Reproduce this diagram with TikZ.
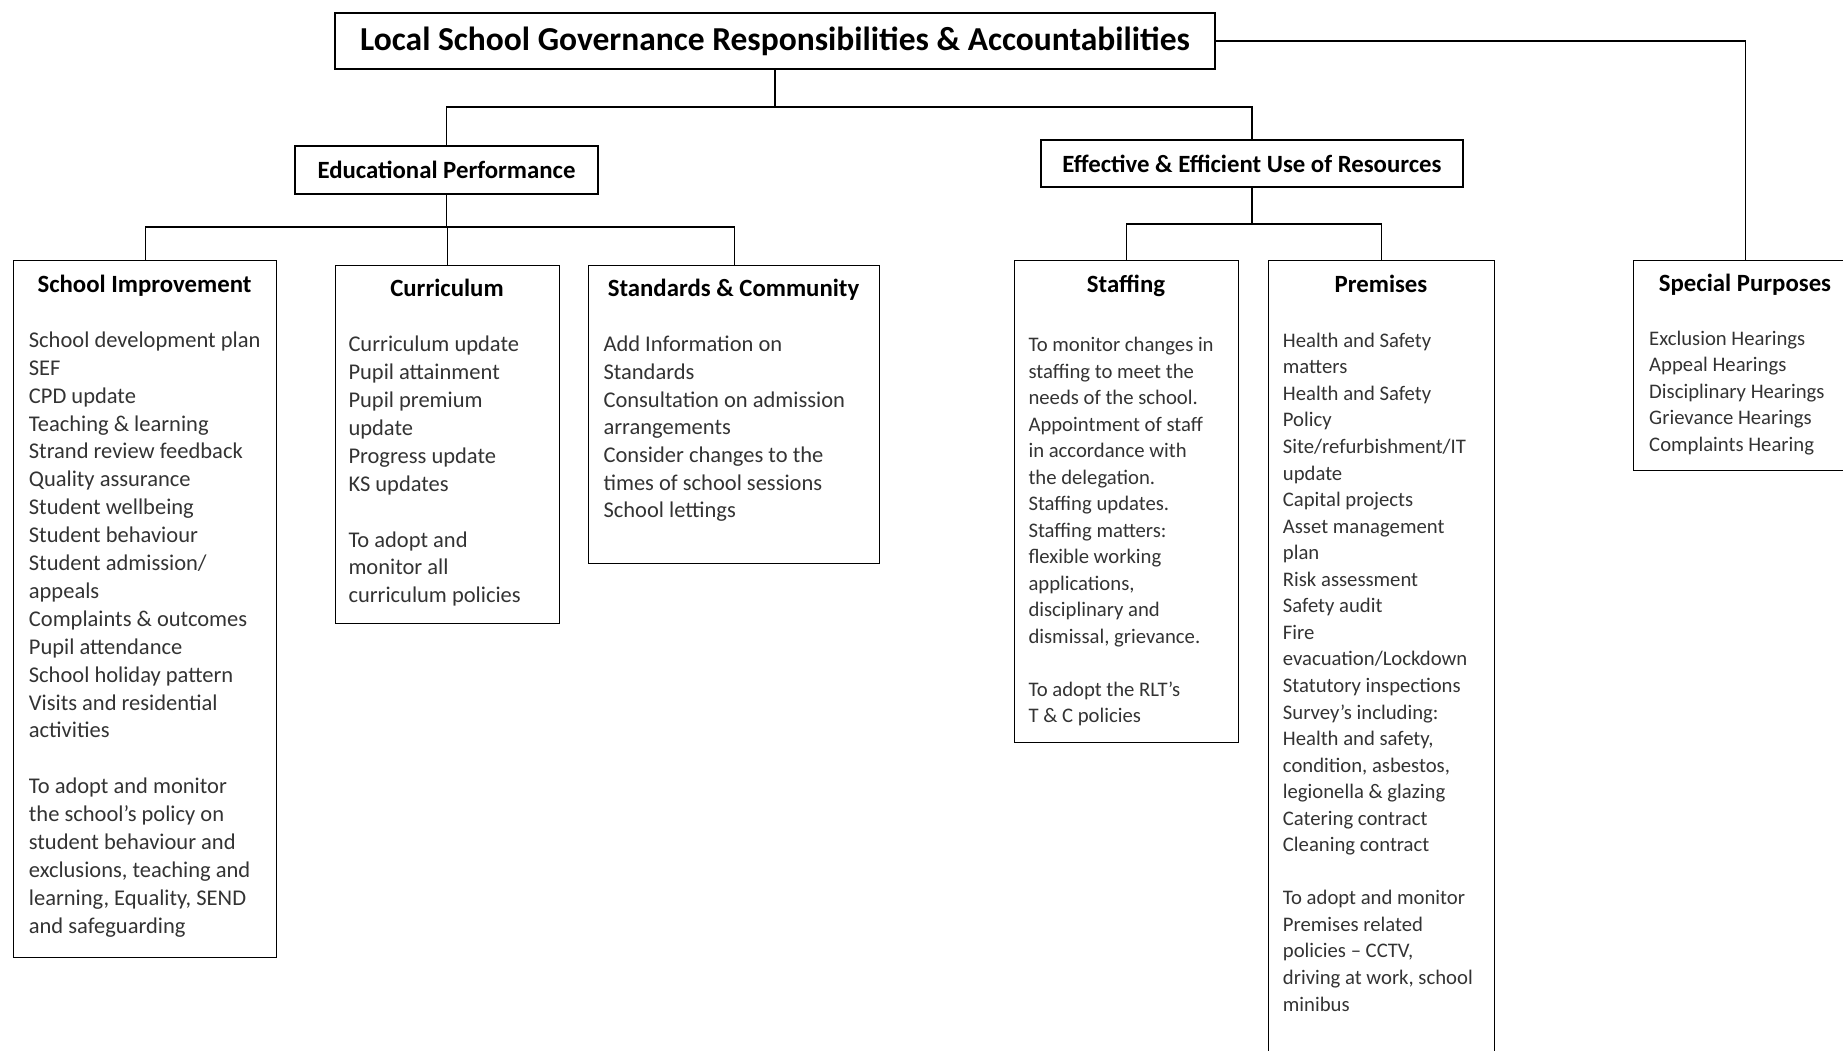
\documentclass[tikz,border=0pt]{standalone}
\usepackage{fontspec}
\setmainfont{Carlito}
\definecolor{bodytext}{gray}{0.2}

\begin{document}
\begin{tikzpicture}[x=1pt,y=-1pt,
  box/.style={draw,line width=1.2pt,inner sep=0pt,anchor=north west},
  topbox/.style={draw,line width=1.2pt,inner sep=0pt,font=\fontsize{24.8}{30}\selectfont\bfseries},
  head/.style={anchor=base,inner sep=0pt,font=\fontsize{24.8}{30}\selectfont\bfseries},
  itemL/.style={anchor=base west,inner sep=0pt,text=bodytext,font=\fontsize{22.5}{27.9}\selectfont},
  itemR/.style={anchor=base west,inner sep=0pt,text=bodytext,font=\fontsize{20.7}{26.5}\selectfont},
  link/.style={line width=1.2pt}]
\useasboundingbox (0,0) rectangle (1843,1050);
\clip (0,0) rectangle (1843,1050);

% top levels
\node[topbox,minimum width=880pt,minimum height=56pt,font=\fontsize{33.5}{40}\selectfont\bfseries] (title) at (775,41) {Local School Governance Responsibilities \& Accountabilities};
\node[topbox,minimum width=303pt,minimum height=48pt] (edu) at (446.5,170) {Educational Performance};
\node[topbox,minimum width=422pt,minimum height=47pt] (eff) at (1252,163.5) {Effective \& Efficient Use of Resources};

% boxes
\node[box,minimum width=263pt,minimum height=697pt] (si) at (13,260) {};
\node[box,minimum width=224pt,minimum height=358pt] (cur) at (335,265) {};
\node[box,minimum width=291pt,minimum height=298pt] (std) at (588,265) {};
\node[box,minimum width=224pt,minimum height=482pt] (staff) at (1014,260) {};
\node[box,minimum width=226pt,minimum height=850pt] (prem) at (1268,260) {};
\node[box,minimum width=224pt,minimum height=210pt] (spec) at (1633,260) {};

\node[head] (si-head) at (144.5,292) {School Improvement};
\node[head] (cur-head) at (447,296) {Curriculum};
\node[head] (std-head) at (733.5,296) {Standards \& Community};
\node[head] (staff-head) at (1126,292) {Staffing};
\node[head] (prem-head) at (1381,292) {Premises};
\node[head] (spec-head) at (1745,291) {Special Purposes};

% connectors
\coordinate (lvl1) at (0,107);
\coordinate (lvl2) at (0,227);
\coordinate (lvl3) at (0,224);
\draw[link] (title.south) -- (title.south |- lvl1);
\draw[link] (edu.north) |- (eff.north |- lvl1) -- (eff.north);
\draw[link] (edu.south) -- (edu.south |- lvl2);
\draw[link] (si.north) |- (std.north |- lvl2) -- (std.north);
\draw[link] (cur.north) -- (cur.north |- lvl2);
\draw[link] (eff.south) -- (eff.south |- lvl3);
\draw[link] (staff.north) |- (prem.north |- lvl3) -- (prem.north);
\draw[link] (title.east) -| (spec.north);

% box texts
\foreach \n/\t in {0/School development plan,1/SEF,2/CPD update,3/Teaching \& learning,
  4/Strand review feedback,5/Quality assurance,6/Student wellbeing,7/Student behaviour,
  8/{Student admission/},9/appeals,10/Complaints \& outcomes,11/Pupil attendance,
  12/School holiday pattern,13/Visits and residential,14/activities,
  16/To adopt and monitor,17/the school’s policy on,18/student behaviour and,
  19/{exclusions, teaching and},20/{learning, Equality, SEND},21/and safeguarding}
{
  \node[itemL] (si-\n) at (28.7,347.3+27.9*\n) {\t};
}

\foreach \n/\t in {0/Curriculum update,1/Pupil attainment,2/Pupil premium,3/update,
  4/Progress update,5/KS updates,7/To adopt and,8/monitor all,9/curriculum policies}
{
  \node[itemL] (cur-\n) at (348.3,351.7+27.9*\n) {\t};
}

\foreach \n/\t in {0/Add Information on,1/Standards,2/Consultation on admission,
  3/arrangements,4/Consider changes to the,5/times of school sessions,6/School lettings}
{
  \node[itemL] (std-\n) at (603.3,351.7+27.7*\n) {\t};
}

\foreach \n/\t in {0/To monitor changes in,1/staffing to meet the,2/needs of the school.,
  3/Appointment of staff,4/in accordance with,5/the delegation.,6/Staffing updates.,
  7/Staffing matters:,8/flexible working,9/{applications,},10/disciplinary and,
  11/{dismissal, grievance.},13/To adopt the RLT’s,14/T \& C policies}
{
  \node[itemR] (staff-\n) at (1028.3,351.7+26.5*\n) {\t};
}

\foreach \n/\t in {0/Health and Safety,1/matters,2/Health and Safety,3/Policy,
  4/{Site/refurbishment/IT},5/update,6/Capital projects,7/Asset management,8/plan,
  9/Risk assessment,10/Safety audit,11/Fire,12/{evacuation/Lockdown},
  13/Statutory inspections,14/Survey’s including:,15/{Health and safety,},
  16/{condition, asbestos,},17/legionella \& glazing,18/Catering contract,
  19/Cleaning contract,21/To adopt and monitor,22/Premises related,
  23/{policies – CCTV,},24/{driving at work, school},25/minibus}
{
  \node[itemR] (prem-\n) at (1282.7,347.3+26.55*\n) {\t};
}

\foreach \n/\t in {0/Exclusion Hearings,1/Appeal Hearings,2/Disciplinary Hearings,
  3/Grievance Hearings,4/Complaints Hearing}
{
  \node[itemR] (spec-\n) at (1649,345+26.6*\n) {\t};
}
\end{tikzpicture}
\end{document}
